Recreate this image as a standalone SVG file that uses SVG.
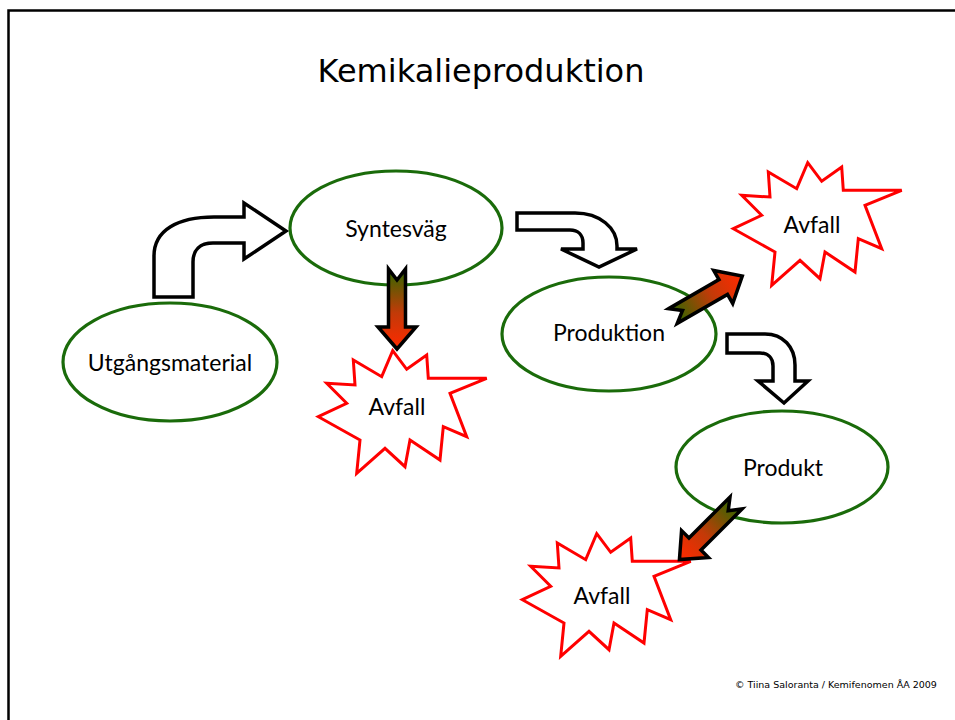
<svg xmlns="http://www.w3.org/2000/svg" width="955" height="720" viewBox="0 0 955 720">
<style>
.frame{fill:none;stroke:#000;stroke-width:2.5}
.node{fill:#fff;stroke:#1a6b0a;stroke-width:3.2}
.lbl{font-family:Lato,"Open Sans",sans-serif;font-size:23px;fill:#000;text-anchor:middle;dominant-baseline:central}
.bent{fill:#fff;stroke:#000;stroke-width:3.5;stroke-linejoin:miter}
.grad{fill:url(#g);stroke:#000;stroke-width:3.5;stroke-linejoin:miter}
.star{fill:#fff;stroke:#ff0000;stroke-width:3;stroke-linejoin:miter}
.title{font-family:"DejaVu Sans",Verdana,sans-serif;font-size:32px;fill:#000;text-anchor:middle}
.foot{font-family:"DejaVu Sans",Verdana,sans-serif;font-size:9.5px;fill:#000}
</style>
<defs>
<linearGradient id="g" x1="0" y1="0" x2="1" y2="0">
<stop offset="0" stop-color="#2f6a00"/>
<stop offset="0.55" stop-color="#c23a08"/>
<stop offset="1" stop-color="#ff2a00"/>
</linearGradient>
<polygon id="burst" points="-7.3,-54.3 6.7,-35.7 26.7,-50 28.3,-26.7 86.7,-26.7 50,-11.7 66.7,31.7 43.3,21.7 40,55 10,35 5,61.7 -15,43.3 -43.3,68.3 -40,35 -81.7,11.7 -53.3,-1.7 -73.3,-21.7 -45,-20 -46.7,-45 -18.3,-28.3"/>
<path id="garrow" d="M0,-8.5 H58 V-19 L80,0 L58,19 V8.5 H0 L11,0 Z"/>
</defs>
<rect width="955" height="720" fill="#fff"/>
<path class="frame" d="M8.5,720 V10.5 H955"/>
<text class="title" x="481" y="82">Kemikalieproduktion</text>
<g id="utgangsmaterial">
<ellipse class="node" cx="170" cy="362" rx="107" ry="59"/>
<text class="lbl" x="170" y="362">Utgångsmaterial</text>
</g>
<g id="syntesvag">
<ellipse class="node" cx="396" cy="228" rx="106" ry="57"/>
<text class="lbl" x="396" y="228">Syntesväg</text>
</g>
<g id="produktion">
<ellipse class="node" cx="609" cy="334" rx="107" ry="57"/>
<text class="lbl" x="609" y="332">Produktion</text>
</g>
<g id="produkt">
<ellipse class="node" cx="782" cy="467" rx="106" ry="56"/>
<text class="lbl" x="783" y="467">Produkt</text>
</g>
<g id="avfall1">
<use href="#burst" class="star" transform="translate(400,405)"/>
<text class="lbl" x="397" y="406">Avfall</text>
</g>
<g id="avfall2">
<use href="#burst" class="star" transform="translate(815,217)"/>
<text class="lbl" x="812" y="224">Avfall</text>
</g>
<g id="avfall3">
<use href="#burst" class="star" transform="translate(604,588)"/>
<text class="lbl" x="602" y="595">Avfall</text>
</g>
<g id="connectors">
<path class="bent" d="M154,297 V256 C154,230 178,217 214,217 H244 V203 L286,231 L244,259 V243 H213 C200,243 193,250 193,262 V297 Z"/>
<path class="bent" d="M517,213 H575 C600,213 617,228 617,246 V249 H637 L599,267 L561,249 H583 V243 C583,235 578,230 570,230 H517 Z"/>
<path class="bent" d="M727,334 H765 C783,334 795,347 795,365 V381 H808 L784,403 L758,381 H773 V366 C773,358 768,353 760,353 H727 Z"/>
<use href="#garrow" class="grad" transform="translate(397,269) rotate(90)"/>
<use href="#garrow" class="grad" transform="translate(673,316) rotate(-30)"/>
<use href="#garrow" class="grad" transform="translate(736,503) rotate(135)"/>
</g>
<text class="foot" x="735" y="688">© Tiina Saloranta / Kemifenomen ÅA 2009</text>
</svg>
